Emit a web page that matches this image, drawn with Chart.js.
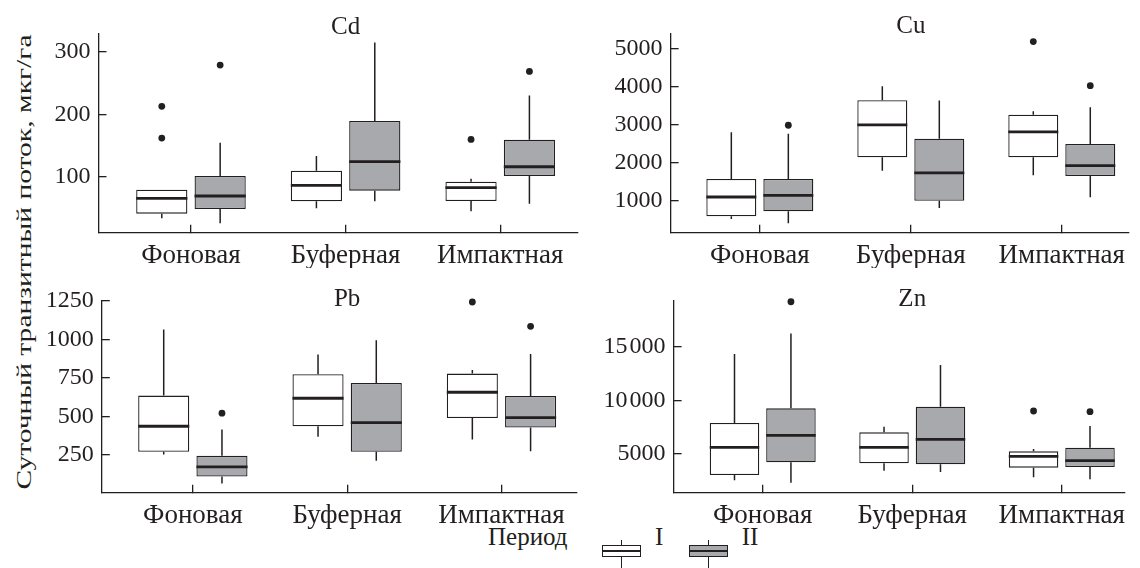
<!DOCTYPE html>
<html>
<head>
<meta charset="utf-8">
<title>Суточный транзитный поток</title>
<style>
    body { margin: 0; background: #fff; font-family: "Liberation Serif", serif; color: #231f20; }
    #page { position: relative; width: 1140px; height: 568px; overflow: hidden; background: #fff; }
    canvas { position: absolute; }
    #ytitle { position: absolute; left: 24px; top: 262px; white-space: nowrap; font-size: 22px; line-height: 1; }
    .lg-text { position: absolute; top: 524px; font-size: 25px; line-height: 1; white-space: nowrap; }
    .lg-box { position: absolute; top: 545px; width: 39px; height: 12px; box-sizing: border-box; border: 1.3px solid #231f20; }
    .lg-box::before { content: ''; position: absolute; left: 0; right: 0; top: 3.5px; height: 2.6px; background: #231f20; }
    .lg-whisk { position: absolute; width: 1.4px; background: #231f20; }
</style>
</head>
<body>
<div id="page">
    <div id="ytitle">Суточный транзитный поток, мкг/га</div>
    <div class="lg-text" style="left:488px">Период</div>
    <div class="lg-whisk" style="left:620.5px; top:540px; height:5px"></div>
    <div class="lg-box" style="left:601.7px; background:#fff"></div>
    <div class="lg-whisk" style="left:620.5px; top:557px; height:11px"></div>
    <div class="lg-text" style="left:655px">I</div>
    <div class="lg-whisk" style="left:708px; top:540px; height:5px"></div>
    <div class="lg-box" style="left:689px; background:#a7a9ac"></div>
    <div class="lg-whisk" style="left:708px; top:557px; height:11px"></div>
    <div class="lg-text" style="left:741.7px">II</div>
</div>

<script src="https://cdn.jsdelivr.net/npm/chart.js"></script>
<script>
    const categories = ['Фоновая', 'Буферная', 'Импактная'];
    const catX = [1, 2, 3];
    const periods = ['I', 'II'];

    // по каждой зоне: [нижний ус, Q1, медиана, Q3, верхний ус]
    const cdI  = [[34, 41.5, 66, 79.7, 79.7], [50, 61.2, 86.7, 110, 133.5], [45.3, 61.7, 83, 92.5, 97.3]];
    const cdII = [[26, 49, 69.7, 101.6, 154.7], [61.2, 78.2, 124.4, 189.3, 314.8], [57.4, 101.6, 116.4, 159.5, 230.3]];
    const cdOutI  = [[212.8, 162.2], [], [160]];
    const cdOutII = [[278.6], [], [268.6]];
    const cdTicks = [100, 200, 300];
    const cdTickLabels = ['100', '200', '300'];

    const cuI  = [[517, 588, 1098, 1573, 2805], [1792, 2145, 2997, 3649, 4018], [1670, 2145, 2813, 3269, 3359]];
    const cuII = [[404, 720, 1142, 1573, 2768], [807, 1000, 1731, 2636, 3639], [1090, 1652, 1923, 2496, 3464]];
    const cuOutI  = [[], [], [5195]];
    const cuOutII = [[2989], [], [4034]];
    const cuTicks = [1000, 2000, 3000, 4000, 5000];
    const cuTickLabels = ['1000', '2000', '3000', '4000', '5000'];

    const pbI  = [[252, 269.5, 436, 635, 1064], [367, 436, 618, 774, 902], [349.6, 490, 657, 778, 802]];
    const pbII = [[64, 109, 172, 243.5, 414.5], [211, 269.5, 460, 717.6, 994.8], [274, 427.5, 492.5, 633, 906]];
    const pbOutI  = [[], [], [1243.7]];
    const pbOutII = [[520.6], [], [1085.7]];
    const pbTicks = [250, 500, 750, 1000, 1250];
    const pbTickLabels = ['250', '500', '750', '1000', '1250'];

    const znI  = [[2546, 3043, 5621, 7889, 14318], [3447, 4130, 5621, 7019, 7547], [2826, 3727, 4783, 5248, 5466]];
    const znII = [[2329, 4224, 6739, 9255, 16244], [3323, 4037, 6367, 9411, 13293], [2639, 3789, 4379, 5590, 7609]];
    const znOutI  = [[], [], [9007]];
    const znOutII = [[19194], [], [8945]];
    const znTicks = [5000, 10000, 15000];
    const znTickLabels = ['5000', '10\u200A000', '15\u200A000'];

    const INK = '#231f20';
    const GRAY = '#a7a9ac';
    const FAMILY = "'Liberation Serif', 'Times New Roman', serif";

    Chart.defaults.font.family = FAMILY;
    Chart.defaults.color = INK;

    // усы, медианы и выбросы поверх прямоугольников
    const boxExtras = {
        id: 'boxExtras',
        afterDatasetsDraw(chart) {
            const ctx = chart.ctx;
            const ys = chart.scales.y;
            ctx.save();
            ctx.strokeStyle = INK;
            ctx.fillStyle = INK;
            chart.data.datasets.forEach((ds, di) => {
                chart.getDatasetMeta(di).data.forEach((bar, i) => {
                    const s = ds.stats[i];
                    const half = bar.width / 2;
                    ctx.lineWidth = 1.5;
                    ctx.beginPath();
                    ctx.moveTo(bar.x, ys.getPixelForValue(s[0]));
                    ctx.lineTo(bar.x, ys.getPixelForValue(s[1]));
                    ctx.moveTo(bar.x, ys.getPixelForValue(s[3]));
                    ctx.lineTo(bar.x, ys.getPixelForValue(s[4]));
                    ctx.stroke();
                    ctx.lineWidth = 2.8;
                    ctx.beginPath();
                    ctx.moveTo(bar.x - half, ys.getPixelForValue(s[2]));
                    ctx.lineTo(bar.x + half, ys.getPixelForValue(s[2]));
                    ctx.stroke();
                    ds.outliers[i].forEach(v => {
                        ctx.beginPath();
                        ctx.arc(bar.x, ys.getPixelForValue(v), 3.4, 0, Math.PI * 2);
                        ctx.fill();
                    });
                });
            });
            ctx.restore();
        }
    };

    const panelTitle = {
        id: 'panelTitle',
        afterDraw(chart, args, opts) {
            const ctx = chart.ctx;
            ctx.save();
            ctx.font = '25px ' + FAMILY;
            ctx.fillStyle = INK;
            ctx.textAlign = 'center';
            ctx.textBaseline = 'alphabetic';
            ctx.fillText(opts.text, chart.scales.x.getPixelForValue(2), chart.chartArea.top + opts.dy);
            ctx.restore();
        }
    };

    function makePanel(p) {
        const cv = document.createElement('canvas');
        cv.width = p.w;
        cv.height = p.h;
        cv.style.left = p.left + 'px';
        cv.style.top = p.top + 'px';
        document.getElementById('page').appendChild(cv);

        const sets = [p.s1, p.s2];
        const outs = [p.o1, p.o2];
        new Chart(cv, {
            type: 'bar',
            data: {
                datasets: periods.map((name, k) => ({
                    label: name,
                    data: catX.map((x, i) => ({ x: x, y: [sets[k][i][1], sets[k][i][3]] })),
                    stats: sets[k],
                    outliers: outs[k],
                    backgroundColor: k === 0 ? '#ffffff' : GRAY,
                    borderColor: INK,
                    borderWidth: 1.3,
                    borderSkipped: false,
                    categoryPercentage: 0.755,
                    barPercentage: 0.877
                }))
            },
            options: {
                responsive: false,
                animation: false,
                layout: { padding: { left: 0, top: p.padTop, right: p.padRight, bottom: 0 } },
                plugins: {
                    legend: { display: false },
                    tooltip: { enabled: false },
                    panelTitle: { text: p.title, dy: p.titleDy }
                },
                scales: {
                    x: {
                        type: 'linear',
                        offset: false,
                        min: p.xMin,
                        max: p.xMax,
                        afterBuildTicks: s => { s.ticks = catX.map(v => ({ value: v })); },
                        afterFit: s => { s.height = p.xh; },
                        ticks: {
                            callback: v => categories[catX.indexOf(v)],
                            font: { family: FAMILY, size: 27 },
                            color: INK,
                            padding: 15,
                            autoSkip: false,
                            maxRotation: 0
                        },
                        grid: { offset: false, drawOnChartArea: false, tickLength: -8, color: INK, lineWidth: 1.3 },
                        border: { display: true, color: INK, width: 1.3 }
                    },
                    y: {
                        min: p.yMin,
                        max: p.yMax,
                        afterBuildTicks: s => { s.ticks = p.ticks.map(v => ({ value: v })); },
                        afterFit: s => { s.width = p.yw; },
                        ticks: {
                            callback: v => p.tickLabels[p.ticks.indexOf(v)],
                            font: { family: FAMILY, size: 24 },
                            color: INK,
                            padding: 16,
                            autoSkip: false
                        },
                        grid: { drawOnChartArea: false, tickLength: -8, color: INK, lineWidth: 1.3 },
                        border: { display: true, color: INK, width: 1.3 }
                    }
                }
            },
            plugins: [boxExtras, panelTitle]
        });
    }

    makePanel({ title: 'Cd', titleDy: 1, left: 0, top: 0, w: 580, h: 268, padTop: 33.3, padRight: 2.3, yw: 98.5, xh: 35.3,
        xMin: 0.402, xMax: 3.501, yMin: 11.1, yMax: 329.4, ticks: cdTicks, tickLabels: cdTickLabels,
        s1: cdI, s2: cdII, o1: cdOutI, o2: cdOutII });
    makePanel({ title: 'Cu', titleDy: 0, left: 570, top: 0, w: 570, h: 268, padTop: 33.3, padRight: 0, yw: 100.6, xh: 35.3,
        xMin: 0.409, xMax: 3.443, yMin: 156, yMax: 5414, ticks: cuTicks, tickLabels: cuTickLabels,
        s1: cuI, s2: cuII, o1: cuOutI, o2: cuOutII });
    makePanel({ title: 'Pb', titleDy: 5.3, left: 0, top: 268, w: 580, h: 300, padTop: 32.7, padRight: 2, yw: 101.8, xh: 75.3,
        xMin: 0.41, xMax: 3.486, yMin: 4, yMax: 1252, ticks: pbTicks, tickLabels: pbTickLabels,
        s1: pbI, s2: pbII, o1: pbOutI, o2: pbOutII });
    makePanel({ title: 'Zn', titleDy: 5.3, left: 570, top: 268, w: 570, h: 300, padTop: 32.7, padRight: 0, yw: 103.6, xh: 75.3,
        xMin: 0.404, xMax: 3.42, yMin: 1393, yMax: 19290, ticks: znTicks, tickLabels: znTickLabels,
        s1: znI, s2: znII, o1: znOutI, o2: znOutII });

    // подпись оси Y растягиваем на всю высоту панелей
    const yt = document.getElementById('ytitle');
    const ytw = yt.getBoundingClientRect().width;
    yt.style.transform = 'translate(-50%, -50%) rotate(-90deg) scaleX(' + (455 / ytw) + ')';
</script>
</body>
</html>
